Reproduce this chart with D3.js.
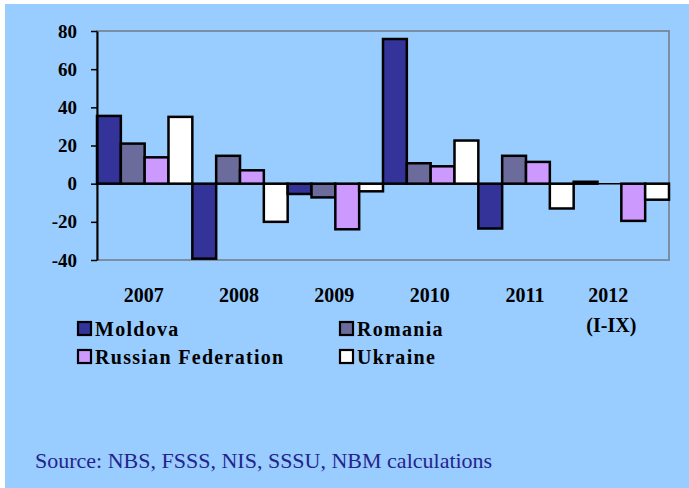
<!DOCTYPE html>
<html>
<head>
<meta charset="utf-8">
<script src="https://cdn.jsdelivr.net/npm/d3@7"></script>
<style>
    body { margin: 0; background: #fff; }
</style>
</head>
<body>
<div class="graph"></div>
<script>
// Data
const years = ["2007", "2008", "2009", "2010", "2011", "2012"];
const countries = ["Moldova", "Romania", "Russian Federation", "Ukraine"];
const moldova = [35.5, -39.3, -5.4, 75.8, -23.5, 1];
const romania = [21, 14.6, -7.2, 10.7, 14.6, 0];
const russia = [13.8, 7, -23.9, 9.1, 11.4, -19.5];
const ukraine = [35, -20, -4, 22.6, -13, -8.4];
const yTicks = [-40, -20, 0, 20, 40, 60, 80];
const colors = ["#333399", "#6b6b9c", "#cc99ff", "#ffffff"];

const serifFont = "'Liberation Serif', 'Times New Roman', serif";

const dimensions = {
    width: 689,
    height: 488,
    margins: { top: 31, right: 20, bottom: 228, left: 97 }
};
dimensions.boundedWidth = dimensions.width - dimensions.margins.left - dimensions.margins.right;
dimensions.boundedHeight = dimensions.height - dimensions.margins.top - dimensions.margins.bottom;

const series = [moldova, romania, russia, ukraine];

const wrapper = d3.select(".graph")
    .append("svg")
        .attr("width", dimensions.width)
        .attr("height", dimensions.height)
        .style("font-family", serifFont);

// light blue background, small white strip top/left
wrapper.append("rect")
    .attr("x", 5).attr("y", 4)
    .attr("width", dimensions.width - 5)
    .attr("height", dimensions.height - 4)
    .attr("fill", "#99ccff");

const bounds = wrapper.append("g")
    .attr("transform", `translate(${dimensions.margins.left},${dimensions.margins.top})`);

const yScale = d3.scaleLinear()
    .domain([-40, 80])
    .range([dimensions.boundedHeight, 0]);

const xScale = d3.scaleBand()
    .domain(years)
    .range([0, dimensions.boundedWidth]);

const xInner = d3.scaleBand()
    .domain(countries)
    .range([0, xScale.bandwidth()]);

// plot frame (grey)
bounds.append("rect")
    .attr("width", dimensions.boundedWidth)
    .attr("height", dimensions.boundedHeight)
    .attr("fill", "none")
    .attr("stroke", "#7a8fa3")
    .attr("stroke-width", 2);

// bars
const groups = bounds.selectAll(".year")
    .data(years)
    .join("g")
        .attr("transform", d => `translate(${xScale(d)},0)`);

groups.selectAll("rect")
    .data((d, i) => countries.map((c, j) => ({ country: c, value: series[j][i], idx: j })))
    .join("rect")
        .attr("x", d => xInner(d.country))
        .attr("width", xInner.bandwidth())
        .attr("y", d => yScale(Math.max(0, d.value)))
        .attr("height", d => Math.abs(yScale(d.value) - yScale(0)))
        .attr("fill", d => colors[d.idx])
        .attr("stroke", "#000")
        .attr("stroke-width", 2.5);

// zero line
bounds.append("line")
    .attr("x1", 0).attr("x2", dimensions.boundedWidth)
    .attr("y1", yScale(0)).attr("y2", yScale(0))
    .attr("stroke", "#000")
    .attr("stroke-width", 1.5);

// y axis
const yAxis = bounds.append("g")
    .call(d3.axisLeft(yScale)
        .tickValues(yTicks)
        .tickFormat(d => String(d))
        .tickSize(6).tickSizeOuter(0).tickPadding(14));
yAxis.attr("font-family", null);
yAxis.select(".domain").attr("stroke", "#000").attr("stroke-width", 2);
yAxis.selectAll(".tick line").attr("stroke", "#000").attr("stroke-width", 1.5);
yAxis.selectAll(".tick text")
    .style("font-family", serifFont)
    .attr("font-size", 19)
    .attr("font-weight", "bold")
    .attr("fill", "#000");

// x labels
const xLabels = bounds.append("g")
    .attr("transform", `translate(0,${dimensions.boundedHeight})`);
xLabels.selectAll("text")
    .data(years)
    .join("text")
        .attr("x", d => xScale(d) + xScale.bandwidth() / 2 + (d === "2012" ? -13 : -1))
        .attr("y", 42)
        .attr("text-anchor", "middle")
        .attr("font-size", 20)
        .attr("font-weight", "bold")
        .text(d => d);
xLabels.append("text")
    .attr("x", xScale("2012") + xScale.bandwidth() / 2 - 10)
    .attr("y", 72)
    .attr("text-anchor", "middle")
    .attr("font-size", 20)
    .attr("font-weight", "bold")
    .text("(I-IX)");

// legend
const legendPos = [[78, 322], [340, 322], [78, 350], [340, 350]];
const legend = wrapper.append("g");
countries.forEach((c, i) => {
    const [lx, ly] = legendPos[i];
    legend.append("rect")
        .attr("x", lx).attr("y", ly)
        .attr("width", 13).attr("height", 13)
        .attr("fill", colors[i])
        .attr("stroke", "#000")
        .attr("stroke-width", 2.2);
    legend.append("text")
        .attr("x", lx + 17).attr("y", ly + 14)
        .attr("font-size", 20)
        .attr("font-weight", "bold")
        .attr("letter-spacing", 1.3)
        .text(c);
});

// source note
wrapper.append("text")
    .attr("x", 35).attr("y", 468)
    .attr("font-size", 22)
    .attr("fill", "#24248c")
    .text("Source: NBS, FSSS, NIS, SSSU, NBM calculations");
</script>
</body>
</html>
